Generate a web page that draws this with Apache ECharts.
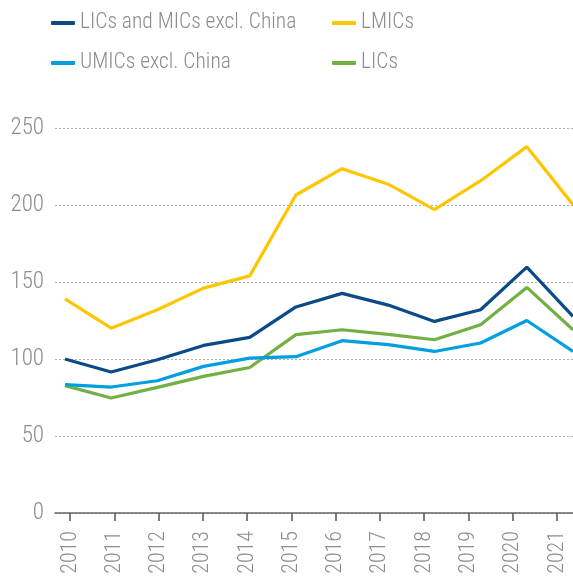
<!DOCTYPE html>
<html>
<head>
<meta charset="utf-8">
<script src="https://cdn.jsdelivr.net/npm/echarts@6/dist/echarts.min.js"></script>
<style>
  html, body { margin: 0; padding: 0; background: #fff; }
  #chart { width: 573px; height: 580px; }
</style>
</head>
<body>
<div id="chart"></div>
<script>
// years on the axis
const years = ['2010', '2011', '2012', '2013', '2014', '2015', '2016', '2017', '2018', '2019', '2020', '2021']
const yearNums = [2010, 2011, 2012, 2013, 2014, 2015, 2016, 2017, 2018, 2019, 2020, 2021]

// series values
const licsMics = [100, 91.6, 99.5, 108.8, 114, 133.8, 142.6, 135, 124.4, 132, 159.7, 127.7]
const lmics = [139, 120, 132, 146, 154, 206.5, 223.6, 213.5, 197, 215.8, 237.9, 200.2]
const umics = [83.3, 81.8, 85.9, 95.2, 100.6, 101.5, 111.9, 109.3, 104.9, 110.4, 125, 105]
const lics = [82.7, 74.7, 81.6, 88.7, 94.5, 115.8, 119, 116, 112.5, 122.3, 146.5, 119]

const yTicks = [0, 50, 100, 150, 200, 250]

const font = '"Roboto Condensed", "Roboto", sans-serif'
const gray = '#8c8c8c'

const pairs = (vals) => vals.map((v, i) => [yearNums[i], v])

const legendBase = {
  orient: 'vertical',
  top: 5,
  itemWidth: 24,
  itemHeight: 4,
  itemGap: 14,
  icon: 'roundRect',
  textStyle: { fontFamily: font, fontSize: 21.5, fontWeight: 300, color: gray, lineHeight: 26 }
}

const chart = echarts.init(document.getElementById('chart'))

chart.setOption({
  animation: false,
  legend: [
    Object.assign({ data: ['LICs and MICs excl. China', 'UMICs excl. China'], left: 46 }, legendBase),
    Object.assign({ data: ['LMICs', 'LICs'], left: 327 }, legendBase)
  ],
  grid: [
    { left: 55, right: 0, top: 128, bottom: 67 },
    { left: 70, right: 16, top: 128, bottom: 67 }
  ],
  xAxis: [
    {
      type: 'value',
      gridIndex: 0,
      min: 2009.784,
      max: 2021,
      axisLine: { show: true, lineStyle: { color: '#666', width: 1.5 } },
      axisTick: { show: false },
      axisLabel: { show: false },
      splitLine: { show: false }
    },
    {
      type: 'category',
      gridIndex: 1,
      data: years,
      boundaryGap: false,
      axisLine: { show: false },
      axisTick: { show: true, length: 8, lineStyle: { color: '#555', width: 1.5 } },
      axisLabel: {
        rotate: 90,
        margin: 18,
        fontFamily: font,
        fontSize: 22,
        fontWeight: 300,
        color: gray
      }
    }
  ],
  yAxis: [
    {
      type: 'value',
      gridIndex: 0,
      min: yTicks[0],
      max: yTicks[yTicks.length - 1],
      interval: 50,
      axisLine: { show: false },
      axisTick: { show: false },
      axisLabel: { margin: 11, fontFamily: font, fontSize: 23, fontWeight: 300, color: gray },
      splitLine: { lineStyle: { type: [2, 2], color: '#b0b0b0', width: 1 } }
    },
    {
      type: 'value',
      gridIndex: 1,
      min: 0,
      max: 250,
      show: false
    }
  ],
  series: [
    {
      name: 'LICs and MICs excl. China',
      type: 'line',
      data: pairs(licsMics),
      symbol: 'none',
      color: '#0b4a87',
      lineStyle: { width: 3.2 },
      z: 4
    },
    {
      name: 'LMICs',
      type: 'line',
      data: pairs(lmics),
      symbol: 'none',
      color: '#ffc600',
      lineStyle: { width: 3.2 },
      z: 3
    },
    {
      name: 'UMICs excl. China',
      type: 'line',
      data: pairs(umics),
      symbol: 'none',
      color: '#009fdf',
      lineStyle: { width: 3.2 },
      z: 2
    },
    {
      name: 'LICs',
      type: 'line',
      data: pairs(lics),
      symbol: 'none',
      color: '#72b043',
      lineStyle: { width: 3.2 },
      z: 1
    }
  ]
})
</script>
</body>
</html>
